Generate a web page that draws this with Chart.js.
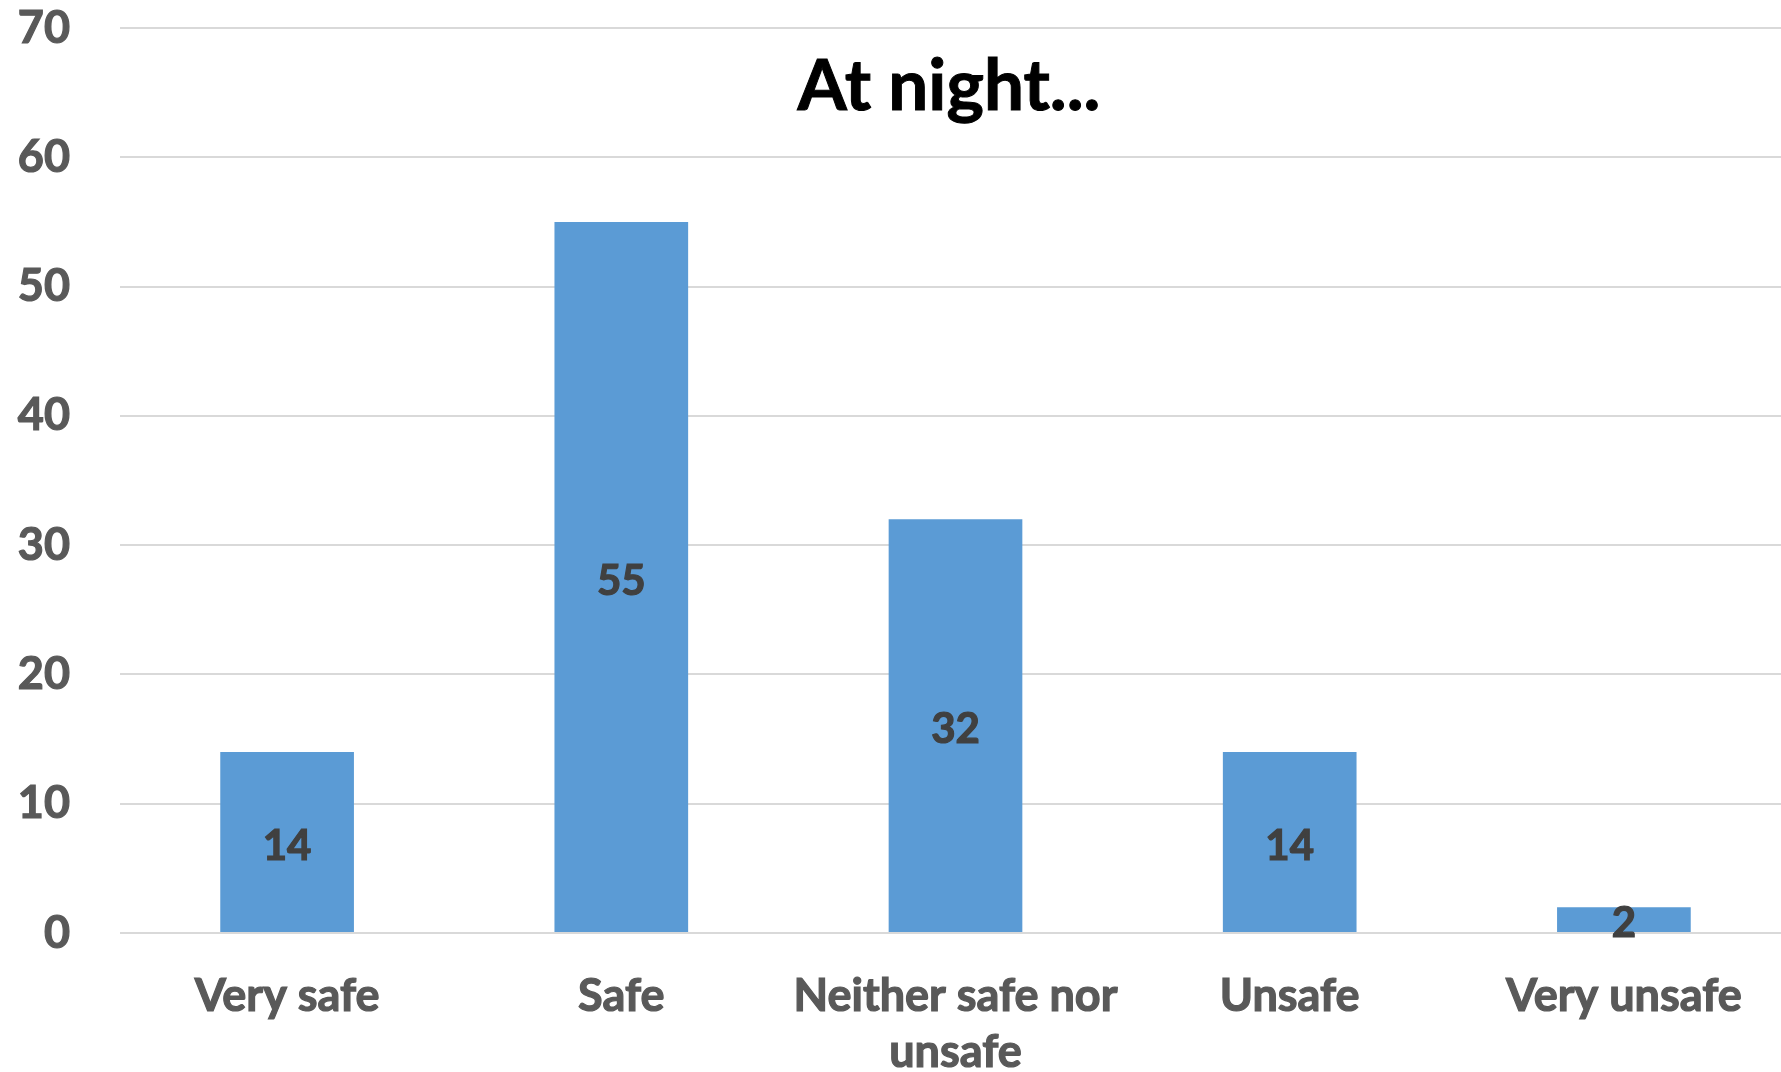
<!DOCTYPE html>
<html>
<head>
<meta charset="utf-8">
<title>At night...</title>
<script src="https://cdn.jsdelivr.net/npm/chart.js@4"></script>
<style>
    html, body { margin: 0; padding: 0; background: #fff; overflow: hidden; }
    #wrap { position: relative; width: 1791px; height: 1072px; }
    #title {
        position: absolute; left: 0; top: 47px; width: 1898px;
        text-align: center; font: 700 71px Lato, sans-serif; line-height: 1; color: #000;
        -webkit-text-stroke: 1px #000;
    }
    canvas { position: absolute; left: 0; top: 0; }
</style>
</head>
<body>
<div id="wrap">
    <canvas id="nightChart" width="1791" height="1072"></canvas>
    <div id="title">At night...</div>
</div>
<script>
const categories = ['Very safe', 'Safe', ['Neither safe nor', 'unsafe'], 'Unsafe', 'Very unsafe'];
const counts = [14, 55, 32, 14, 2];
const yTicks = [0, 10, 20, 30, 40, 50, 60, 70];

// draws the count in the middle of each bar
const barValues = {
    id: 'barValues',
    afterDatasetsDraw(chart) {
        const ctx = chart.ctx;
        const meta = chart.getDatasetMeta(0);
        ctx.save();
        ctx.font = '700 42px Lato, sans-serif';
        ctx.fillStyle = '#404040';
        ctx.strokeStyle = '#404040';
        ctx.lineWidth = 1.2;
        ctx.textAlign = 'center';
        ctx.textBaseline = 'middle';
        meta.data.forEach(function(bar, i) {
            const mid = (bar.y + bar.base) / 2;
            ctx.fillText(String(counts[i]), bar.x, mid + 4);
            ctx.strokeText(String(counts[i]), bar.x, mid + 4);
        });
        ctx.restore();
    }
};

const ctx = document.getElementById('nightChart').getContext('2d');
new Chart(ctx, {
    type: 'bar',
    data: {
        labels: categories,
        datasets: [{
            data: counts,
            backgroundColor: '#5b9bd5',
            borderWidth: 0,
            categoryPercentage: 1,
            barPercentage: 0.4
        }]
    },
    options: {
        responsive: false,
        animation: false,
        layout: { padding: { top: 28, right: 0, bottom: 0, left: 0 } },
        plugins: {
            legend: { display: false },
            title: { display: false },
            tooltip: { enabled: false }
        },
        scales: {
            x: {
                grid: { display: false },
                border: { display: false },
                ticks: {
                    color: '#595959',
                    textStrokeColor: '#595959',
                    textStrokeWidth: 1.2,
                    font: { family: 'Lato', weight: 'bold', size: 45, lineHeight: 1.25 },
                    padding: 27,
                    maxRotation: 0
                },
                afterFit: function(scale) { scale.height = 139; }
            },
            y: {
                min: 0,
                max: 70,
                grid: { color: '#d9d9d9', lineWidth: 2, drawTicks: false },
                border: { display: false },
                ticks: {
                    color: '#595959',
                    textStrokeColor: '#595959',
                    textStrokeWidth: 1.2,
                    font: { family: 'Lato', weight: 'bold', size: 45, lineHeight: 1.1 },
                    padding: 50
                },
                afterBuildTicks: function(scale) {
                    scale.ticks = yTicks.map(function(v) { return { value: v }; });
                },
                afterFit: function(scale) {
                    scale.width = 120;
                    // tick padding is horizontal only here, don't let it push the plot down
                    scale.paddingTop = 25;
                    scale.paddingBottom = 25;
                }
            }
        }
    },
    plugins: [barValues]
});
</script>
</body>
</html>
